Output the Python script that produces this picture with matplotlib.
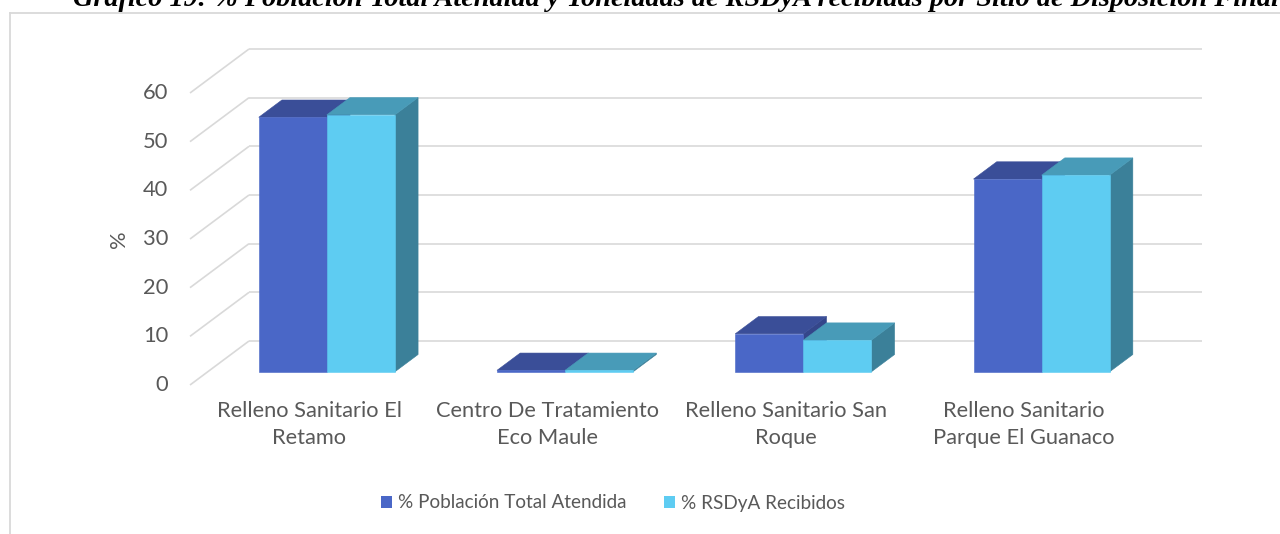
import matplotlib
matplotlib.use("Agg")
import matplotlib.pyplot as plt
from matplotlib.patches import Polygon, Patch
from matplotlib.lines import Line2D

# ---------------- data ----------------
categories = ["Relleno Sanitario El\nRetamo",
              "Centro De Tratamiento\nEco Maule",
              "Relleno Sanitario San\nRoque",
              "Relleno Sanitario\nParque El Guanaco"]
series_names = ["% Población Total Atendida", "% RSDyA Recibidos"]
poblacion = [52.3, 0.3, 7.8, 39.6]
rsdya = [52.8, 0.3, 6.5, 40.4]
y_ticks = [0, 10, 20, 30, 40, 50, 60]
y_label = "%"
title = ("Gráfico 19: % Población Total Atendida y Toneladas de RSDyA "
         "recibidas por Sitio de Disposición Final")

# ---------------- style ----------------
W, H = 1280, 534
TXT = "#595959"
GRID = "#D9D9D9"
FONT = ["Lato", "DejaVu Sans"]
colors = [
    dict(front="#4A67C7", top="#3A4E98", side="#34468A"),
    dict(front="#5ECCF2", top="#489BB8", side="#3B8099"),
]

fig = plt.figure(figsize=(W / 100, H / 100), dpi=100)
ax = fig.add_axes([0, 0, 1, 1])

# map: back wall spans x in [0, n_cat], y in [0, 60]
n_cat = len(categories)
X0_PX, XN_PX = 249, 1202
Y0_PX, YT_PX = 341, 49
ppx = (XN_PX - X0_PX) / n_cat
ppy = (Y0_PX - YT_PX) / y_ticks[-1]
ax.set_xlim(-X0_PX / ppx, (W - X0_PX) / ppx)
ax.set_ylim((Y0_PX - H) / ppy, Y0_PX / ppy)
ax.axis("off")

# oblique depth vector (full floor depth)
DX = -59 / ppx
DY = -44 / ppy

# gridlines on back wall and side wall
for v in y_ticks:
    ax.plot([0, n_cat], [v, v], color=GRID, lw=1.2, zorder=1, solid_capstyle="butt")
    ax.plot([0, DX], [v, v + DY], color=GRID, lw=1.2, zorder=1, solid_capstyle="butt")

# bars
gap = 1.5
bw = 1.0 / (2 + gap)
f0, f1 = 0.307, 0.70

def draw_box(x_left, value, c, z):
    xl, yb = x_left + f1 * DX, f1 * DY
    bx, by = x_left + f0 * DX, f0 * DY
    front = [(xl, yb), (xl + bw, yb), (xl + bw, yb + value), (xl, yb + value)]
    top = [(xl, yb + value), (xl + bw, yb + value), (bx + bw, by + value), (bx, by + value)]
    side = [(xl + bw, yb), (bx + bw, by), (bx + bw, by + value), (xl + bw, yb + value)]
    for pts, col, dz in ((side, c["side"], 0), (top, c["top"], 0.1), (front, c["front"], 0.2)):
        ax.add_patch(Polygon(pts, closed=True, facecolor=col, edgecolor=col,
                             lw=0.4, zorder=z + dz, joinstyle="miter"))

for i in range(n_cat):
    for s, vals in enumerate([poblacion, rsdya]):
        x_left = i + 0.5 - bw + s * bw
        draw_box(x_left, vals[i], colors[s], 2 + s + i * 0.01)

def fit_size(text, target_px, base=14):
    probe = fig.text(0, 0, text, fontsize=base, family=FONT)
    fig.canvas.draw()
    w = probe.get_window_extent().width
    probe.remove()
    return base * target_px / w

FS = fit_size("Relleno Sanitario El", 186)
FS_LEG = fit_size(series_names[0], 230)

# y tick labels at front plane
for v in y_ticks:
    ax.text(DX - 22 / ppx, v + DY, str(v), ha="right", va="center",
            color=TXT, fontsize=FS, family=FONT)

ax.text((119 - X0_PX) / ppx, 30 + DY, y_label, rotation=90, ha="center", va="center",
        color=TXT, fontsize=FS, family=FONT)

# category labels
for i, lab in enumerate(categories):
    ax.text(i + 0.5 + DX, DY - 16 / ppy, lab, ha="center", va="top",
            multialignment="center", color=TXT, fontsize=FS, family=FONT,
            linespacing=1.45)

# legend
em = FS_LEG * 100 / 72
handles = [Patch(facecolor=colors[s]["front"], edgecolor="none") for s in range(2)]
leg = fig.legend(handles, series_names, loc="center", bbox_to_anchor=(613 / W, 1 - 503 / H),
                 ncol=2, frameon=False, fontsize=FS_LEG, handlelength=11 / em,
                 handleheight=11 / em, handletextpad=6 / em, columnspacing=38 / em,
                 borderaxespad=0, borderpad=0)
for t in leg.get_texts():
    t.set_color(TXT)
    t.set_family(FONT)

# chart border (left and top edges visible)
fig.add_artist(Line2D([10 / W, 10 / W], [0, 1 - 13 / H], transform=fig.transFigure,
                      color=GRID, lw=1.3))
fig.add_artist(Line2D([10 / W, 1], [1 - 13 / H, 1 - 13 / H], transform=fig.transFigure,
                      color=GRID, lw=1.3))

# title (cut off at top, as in the source)
tt = fig.text(73 / W, 1 - 6 / H, title, fontsize=18, fontweight="bold", style="italic",
              family=["Liberation Serif", "DejaVu Serif"], va="baseline", ha="left",
              color="black")
fig.canvas.draw()
tw = tt.get_window_extent().width
tt.set_fontsize(18 * 1205 / tw)

fig.savefig("out.png", dpi=100)
